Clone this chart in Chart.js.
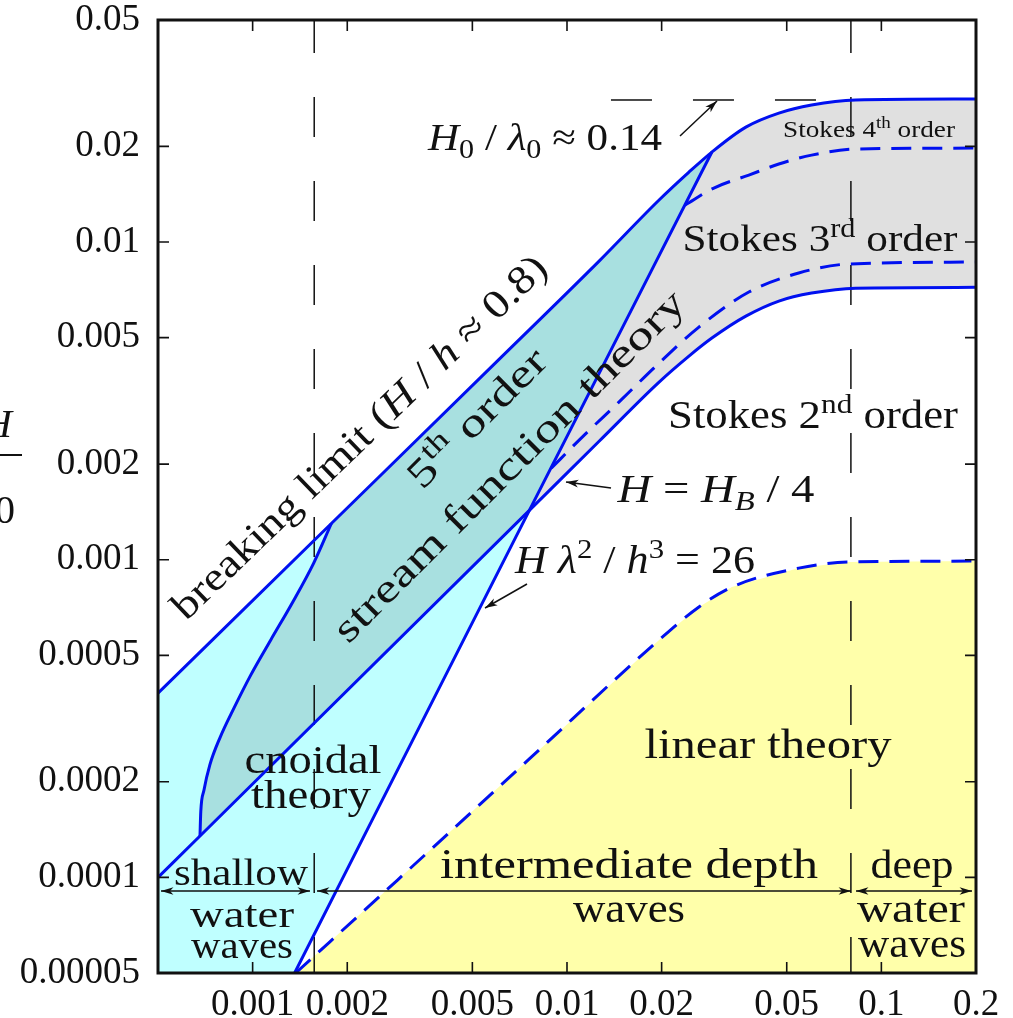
<!DOCTYPE html>
<html>
<head>
<meta charset="utf-8">
<script src="https://cdn.jsdelivr.net/npm/chart.js@4.4.1/dist/chart.umd.min.js"></script>
<style>
  html, body { margin: 0; padding: 0; background: #fff; }
  canvas { display: block; }
</style>
</head>
<body>
<canvas id="waveChart" width="1013" height="1018"></canvas>
<script>
// axes
const xTicks = [0.001, 0.002, 0.005, 0.01, 0.02, 0.05, 0.1, 0.2];
const xTickLabels = ["0.001", "0.002", "0.005", "0.01", "0.02", "0.05", "0.1", "0.2"];
const yTicks = [0.00005, 0.0001, 0.0002, 0.0005, 0.001, 0.002, 0.005, 0.01, 0.02, 0.05];
const yTickLabels = ["0.00005", "0.0001", "0.0002", "0.0005", "0.001", "0.002", "0.005", "0.01", "0.02", "0.05"];

// curves: [h/gT², H/gT²]
const breakingLimit = [[0.0005, 0.00038], [0.00178, 0.0013], [0.00609, 0.00428], [0.01265, 0.00871],
  [0.01963, 0.01356], [0.02443, 0.0166], [0.0289, 0.0192], [0.03706, 0.023], [0.0472, 0.02546],
  [0.060, 0.027], [0.0828, 0.028], [0.2, 0.0282]];
const quarterBreaking = [[0.0005, 0.0001], [0.00068, 0.000135], [0.00759, 0.00143], [0.01265, 0.00236],
  [0.01963, 0.003624], [0.02443, 0.004375], [0.0289, 0.004985], [0.03706, 0.005845], [0.0472, 0.00652],
  [0.060, 0.00691], [0.0828, 0.00716], [0.2, 0.0072]];
const ursellLine = [[0.00136, 0.00005], [0.00759, 0.00143], [0.0289, 0.0192]];
const streamFunctionEdge = [[0.00068, 0.000135], [0.000684, 0.000161], [0.0007, 0.000188], [0.000731, 0.000226],
  [0.000787, 0.000275], [0.000872, 0.000341], [0.000987, 0.000434], [0.001142, 0.000559],
  [0.001342, 0.000736], [0.001564, 0.000976], [0.00178, 0.0013]];
const stokes3 = [[0.00891, 0.00194], [0.01093, 0.00238], [0.01465, 0.00314], [0.01963, 0.00416],
  [0.02628, 0.0054], [0.03788, 0.00696], [0.0546, 0.00799], [0.0787, 0.00853], [0.2, 0.00865]];
const stokes4 = [[0.02372, 0.01307], [0.02932, 0.01479], [0.03788, 0.01625], [0.0472, 0.0176],
  [0.060, 0.01878], [0.0828, 0.01962], [0.2, 0.01976]];
const linearLimit = [[0.00137, 0.00005], [0.00289, 0.0000981], [0.00759, 0.000236], [0.01963, 0.000559],
  [0.02628, 0.00071], [0.03345, 0.00082], [0.0546, 0.000941], [0.0787, 0.000983], [0.2, 0.00099]];
const deepBreaking = [[0.0138, 0.028], [0.08, 0.028]];
const shallowLimit = 0.00157;
const deepLimit = 0.08;

const BLUE = "#0010f0";
const SERIF = '"Liberation Serif", "Times New Roman", serif';

// area outlines made from the curves above
const ursellTop = ursellLine[ursellLine.length - 1];
const iTop = breakingLimit.findIndex(p => p[0] === ursellTop[0]);
const iCross = quarterBreaking.findIndex(p => p[0] === ursellLine[1][0]);
const cyanArea = [[0.0005, 0.00005], ...breakingLimit.slice(0, iTop + 1), ...ursellLine.slice().reverse()];
const tealArea = [...streamFunctionEdge, ...breakingLimit.slice(2, iTop + 1), ...quarterBreaking.slice(1, iCross + 1).reverse()];
const grayArea = [...breakingLimit.slice(iTop), ...quarterBreaking.slice(iCross).reverse()];
const yellowArea = [...linearLimit, [0.2, 0.00005]];

const toXY = arr => arr.map(p => ({ x: p[0], y: p[1] }));

function area(arr, color, order) {
    return { data: toXY(arr), fill: "shape", backgroundColor: color, borderColor: "rgba(0,0,0,0)",
        borderWidth: 0, pointRadius: 0, tension: 0, order: order };
}
function curve(arr, dash, order) {
    return { data: toXY(arr), fill: false, borderColor: BLUE, borderWidth: 3, borderDash: dash,
        pointRadius: 0, cubicInterpolationMode: "monotone", order: order };
}
function guide(arr, dash, offset) {
    return { data: toXY(arr), fill: false, borderColor: "#111", borderWidth: 1.5, borderDash: dash,
        borderDashOffset: offset, pointRadius: 0, tension: 0, order: 3 };
}

// text pieces: [text, style]  style: i = italic, sub, sup
const labels = [
    { segs: [["H", "i"], ["0", "sub"], [" / "], ["λ", "i"], ["0", "sub"], [" ≈ 0.14"]], x: 545, y: 150, size: 38, w: 234 },
    { segs: [["Stokes 4"], ["th", "sup"], [" order"]], x: 869, y: 137, size: 24, w: 172 },
    { segs: [["Stokes 3"], ["rd", "sup"], [" order"]], x: 820, y: 251, size: 38, w: 275 },
    { segs: [["Stokes 2"], ["nd", "sup"], [" order"]], x: 813, y: 428, size: 40, w: 290 },
    { segs: [["H", "i"], [" = "], ["H", "i"], ["B", "isub"], [" / 4"]], x: 716, y: 502, size: 40, w: 197 },
    { segs: [["H", "i"], [" "], ["λ", "i"], ["2", "sup"], [" / "], ["h", "i"], ["3", "sup"], [" = 26"]], x: 635, y: 573, size: 40, w: 240 },
    { segs: [["linear theory"]], x: 768, y: 758, size: 42, w: 247 },
    { segs: [["cnoidal"]], x: 313, y: 773, size: 40, w: 137 },
    { segs: [["theory"]], x: 311, y: 808, size: 40, w: 120 },
    { segs: [["shallow"]], x: 241, y: 885, size: 38, w: 134 },
    { segs: [["water"]], x: 242, y: 927, size: 38, w: 104 },
    { segs: [["waves"]], x: 242, y: 958, size: 38, w: 102 },
    { segs: [["intermediate depth"]], x: 629, y: 878, size: 42, w: 378 },
    { segs: [["waves"]], x: 629, y: 922, size: 42, w: 112 },
    { segs: [["deep"]], x: 912, y: 878, size: 40, w: 83 },
    { segs: [["water"]], x: 911, y: 922, size: 40, w: 108 },
    { segs: [["waves"]], x: 912, y: 957, size: 40, w: 108 },
    { segs: [["breaking limit ("], ["H", "i"], [" / "], ["h", "i"], [" ≈ 0.8)"]], x: 368, y: 446, size: 40, w: 505, rot: -44 },
    { segs: [["5"], ["th", "sup"], [" order"]], x: 486, y: 427, size: 40, w: 180, rot: -45 },
    { segs: [["stream function theory"]], x: 518, y: 475, size: 40, w: 480, rot: -45 }
];
const arrows = [
    [680, 136, 717, 101, false], [611, 488, 566, 482, false], [527, 584, 485, 608, false],
    [161, 891, 310, 891, true], [317, 891, 851, 891, true], [856, 891, 972, 891, true]
];

function drawRich(ctx, item) {
    const size = item.size;
    const parts = item.segs.map(([t, st = ""]) => {
        const small = st.includes("sub") || st.includes("sup");
        const font = (st.startsWith("i") ? "italic " : "") + (small ? size * 0.7 : size) + "px " + SERIF;
        ctx.font = font;
        const dy = st.includes("sub") ? size * 0.2 : st.includes("sup") ? -size * 0.38 : 0;
        return { t, font, dy, width: ctx.measureText(t).width };
    });
    const total = parts.reduce((s, p) => s + p.width, 0);
    ctx.save();
    ctx.translate(item.x, item.y);
    ctx.rotate((item.rot || 0) * Math.PI / 180);
    ctx.scale(item.w ? item.w / total : 1, 1);
    ctx.textAlign = "left";
    ctx.textBaseline = "alphabetic";
    let cx = -total / 2;
    parts.forEach(p => {
        ctx.font = p.font;
        ctx.fillText(p.t, cx, p.dy);
        cx += p.width;
    });
    ctx.restore();
}

function head(ctx, x1, y1, x2, y2) {
    const a = Math.atan2(y2 - y1, x2 - x1);
    ctx.beginPath();
    ctx.moveTo(x2, y2);
    ctx.lineTo(x2 - 13 * Math.cos(a - 0.3), y2 - 13 * Math.sin(a - 0.3));
    ctx.lineTo(x2 - 9 * Math.cos(a), y2 - 9 * Math.sin(a));
    ctx.lineTo(x2 - 13 * Math.cos(a + 0.3), y2 - 13 * Math.sin(a + 0.3));
    ctx.closePath();
    ctx.fill();
}

const overlay = {
    id: "overlay",
    afterDatasetsDraw(chart) {
        const { ctx, chartArea: a, scales: { x, y } } = chart;
        ctx.save();
        ctx.strokeStyle = "#111";
        ctx.fillStyle = "#111";

        // inward ticks on all four sides
        ctx.lineWidth = 1.6;
        ctx.beginPath();
        xTicks.forEach(v => {
            const px = x.getPixelForValue(v);
            ctx.moveTo(px, a.bottom); ctx.lineTo(px, a.bottom - 11);
            ctx.moveTo(px, a.top); ctx.lineTo(px, a.top + 11);
        });
        yTicks.forEach(v => {
            const py = y.getPixelForValue(v);
            ctx.moveTo(a.left, py); ctx.lineTo(a.left + 11, py);
            ctx.moveTo(a.right, py); ctx.lineTo(a.right - 11, py);
        });
        ctx.stroke();

        ctx.lineWidth = 3;
        ctx.strokeRect(a.left, a.top, a.right - a.left, a.bottom - a.top);

        // arrows
        ctx.lineWidth = 1.5;
        arrows.forEach(([x1, y1, x2, y2, both]) => {
            ctx.beginPath(); ctx.moveTo(x1, y1); ctx.lineTo(x2, y2); ctx.stroke();
            head(ctx, x1, y1, x2, y2);
            if (both) head(ctx, x2, y2, x1, y1);
        });

        labels.forEach(l => drawRich(ctx, l));

        // y axis title, mostly outside the picture
        ctx.font = "italic 40px " + SERIF;
        ctx.fillText("H", -17, 437);
        ctx.fillRect(0, 454, 22, 2);
        ctx.fillText("λ", -30, 523);
        ctx.font = "40px " + SERIF;
        ctx.fillText("0", -5, 523);
        ctx.restore();
    }
};

new Chart(document.getElementById("waveChart"), {
    type: "line",
    data: {
        datasets: [
            area(yellowArea, "#ffffaa", 10),
            area(cyanArea, "#bfffff", 9),
            area(tealArea, "#a8e0e0", 8),
            area(grayArea, "#e0e0e0", 7),
            guide([[shallowLimit, 0.05], [shallowLimit, 0.00005]], [40, 44], 7),
            guide([[deepLimit, 0.05], [deepLimit, 0.00005]], [40, 44], 7),
            guide(deepBreaking, [41, 41], 0),
            curve(linearLimit, [20, 11], 2),
            curve(stokes3, [20, 11], 2),
            curve(stokes4, [20, 11], 2),
            curve(breakingLimit, [], 1),
            curve(quarterBreaking, [], 1),
            curve(ursellLine, [], 1),
            curve(streamFunctionEdge, [], 1)
        ]
    },
    options: {
        responsive: false,
        animation: false,
        devicePixelRatio: 1,
        events: [],
        layout: { padding: { top: 20, right: 37, left: 0, bottom: 0 } },
        plugins: { legend: { display: false }, tooltip: { enabled: false } },
        scales: {
            x: {
                type: "logarithmic", min: 0.0005, max: 0.2,
                grid: { display: false }, border: { display: false },
                afterBuildTicks: s => { s.ticks = xTicks.map(v => ({ value: v })); },
                afterFit: s => { s.height = 45; },
                ticks: { autoSkip: false, maxRotation: 0, padding: 2, color: "#111",
                    font: { family: SERIF, size: 37 }, callback: (v, i) => xTickLabels[i] }
            },
            y: {
                type: "logarithmic", min: 0.00005, max: 0.05,
                grid: { display: false }, border: { display: false },
                afterBuildTicks: s => { s.ticks = yTicks.map(v => ({ value: v })); },
                afterFit: s => { s.width = 158; s.paddingTop = 0; s.paddingBottom = 0; },
                ticks: { autoSkip: false, padding: 10, color: "#111",
                    font: { family: SERIF, size: 37 }, callback: (v, i) => yTickLabels[i] }
            }
        }
    },
    plugins: [overlay]
});
</script>
</body>
</html>
